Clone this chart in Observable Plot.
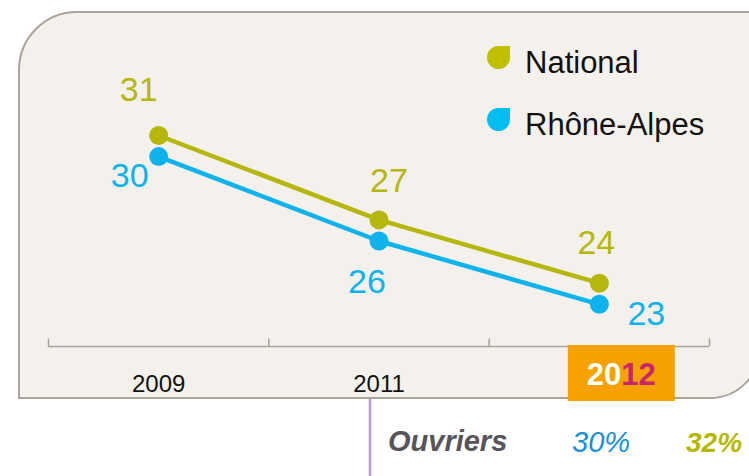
<!DOCTYPE html>
<html>
<head>
<meta charset="utf-8">
<script src="https://cdn.jsdelivr.net/npm/d3@7"></script>
<script src="https://cdn.jsdelivr.net/npm/@observablehq/plot@0.6"></script>
<style>
  html, body { margin: 0; padding: 0; background: #ffffff; }
  #chart { width: 749px; height: 476px; overflow: hidden; }
</style>
</head>
<body>
<div id="chart"></div>
<script>
// ---- data ----
const years = ["2009", "2011", "2012"];
const national = [31, 27, 24];
const rhoneAlpes = [30, 26, 23];
const seriesNames = ["National", "Rhône-Alpes"];
const rowLabel = "Ouvriers";
const rowRegional = "30%";
const rowNational = "32%";

// ---- styles ----
const FONT = "Liberation Sans, Arial, Helvetica, sans-serif";
const colors = { "National": "#b6b70d", "Rhône-Alpes": "#0db3ea" };
const legendColors = { "National": "#bfbf00", "Rhône-Alpes": "#00bdf2" };
// label placement per series / point (px offsets)
const labelOffsets = {
  "National": [[-20, -45], [10, -39], [-3, -40]],
  "Rhône-Alpes": [[-29, 20], [-12, 41], [47, 10]]
};

const rows = [];
years.forEach((y, i) => {
  rows.push({ i, year: y, series: "National", value: national[i] });
  rows.push({ i, year: y, series: "Rhône-Alpes", value: rhoneAlpes[i] });
});
const boundaries = d3.range(years.length + 1).map(k => k - 0.5);

const labelMarks = rows.map(r => {
  const [dx, dy] = labelOffsets[r.series][r.i];
  return Plot.text([r], {
    x: "i", y: "value", text: d => String(d.value),
    dx, dy, fill: colors[r.series], fontSize: 34, fontFamily: FONT,
    textAnchor: "middle"
  });
});

const plot = Plot.plot({
  width: 749,
  height: 476,
  marginLeft: 48,
  marginRight: 40,
  marginTop: 12,
  marginBottom: 130,
  style: { background: "transparent", overflow: "visible", fontFamily: FONT },
  x: { type: "linear", domain: [-0.5, years.length - 0.5], axis: null },
  y: { domain: [21, 36.83], axis: null },
  marks: [
    Plot.ruleY([21], { stroke: "#a7a29b", strokeWidth: 1.5 }),
    Plot.ruleX(boundaries, { y1: 21, y2: 21.36, stroke: "#a7a29b", strokeWidth: 1.5 }),
    Plot.text(years.slice(0, years.length - 1), {
      x: (d, i) => i, y: () => 21, text: d => d, dy: 38,
      fontSize: 24, fill: "#111", fontFamily: FONT
    }),
    ...seriesNames.map(s => Plot.line(rows.filter(r => r.series === s), {
      x: "i", y: "value", stroke: colors[s], strokeWidth: 4.5
    })),
    ...seriesNames.map(s => Plot.dot(rows.filter(r => r.series === s), {
      x: "i", y: "value", r: 9.5, fill: colors[s], stroke: "none"
    })),
    ...labelMarks
  ]
});

document.getElementById("chart").appendChild(plot);

// ---- decorations ----
const svg = d3.select(plot);
const xs = plot.scale("x");

// panel behind everything
svg.insert("path", ":first-child")
  .attr("d", "M19,398 L19,70 A58,58 0 0 1 77,12 L760,12 L760,348 A50,50 0 0 1 710,398 Z")
  .attr("fill", "#f4f1ec")
  .attr("stroke", "#aaa49b")
  .attr("stroke-width", 2);

// last year highlighted in an orange box
const lastX = xs.apply(years.length - 1);
const g = svg.append("g").attr("font-family", FONT).attr("text-anchor", "start");
g.append("rect")
  .attr("x", lastX - 31).attr("y", 345).attr("width", 107).attr("height", 56)
  .attr("fill", "#f5a100");
const lastYear = years[years.length - 1];
const t = g.append("text")
  .attr("x", lastX + 22.5).attr("y", 385)
  .attr("text-anchor", "middle")
  .attr("font-size", 31).attr("font-weight", "bold");
t.append("tspan").attr("fill", "#ffffff").text(lastYear.slice(0, 2));
t.append("tspan").attr("fill", "#c9256e").text(lastYear.slice(2));

// purple connector line
g.append("line")
  .attr("x1", 370).attr("x2", 370).attr("y1", 399).attr("y2", 476)
  .attr("stroke", "#b99ad3").attr("stroke-width", 2.5);

// bottom row
g.append("text").attr("x", 388).attr("y", 451).attr("text-anchor", "start")
  .attr("font-size", 29).attr("font-weight", "bold").attr("font-style", "italic")
  .attr("fill", "#57545a").text(rowLabel);
g.append("text").attr("x", 572).attr("y", 452).attr("text-anchor", "start")
  .attr("font-size", 29).attr("font-style", "italic")
  .attr("fill", "#1a90d2").text(rowRegional);
g.append("text").attr("x", 686).attr("y", 452).attr("text-anchor", "start")
  .attr("font-size", 28).attr("font-weight", "bold").attr("font-style", "italic")
  .attr("fill", "#b5b800").text(rowNational);

// legend
function leafPath(x0, y0, s) {
  const r = s / 2;
  return `M${x0 + r},${y0} L${x0 + s},${y0} L${x0 + s},${y0 + r} ` +
    `A${r},${r} 0 0 1 ${x0 + r},${y0 + s} A${r},${r} 0 0 1 ${x0},${y0 + r} ` +
    `A${r},${r} 0 0 1 ${x0 + r},${y0} Z`;
}
seriesNames.forEach((s, k) => {
  const top = 46 + k * 62;
  g.append("path").attr("d", leafPath(487, top, 23)).attr("fill", legendColors[s]);
  g.append("text").attr("x", 525).attr("y", top + 27).attr("text-anchor", "start")
    .attr("font-size", 31).attr("fill", "#111").text(s);
});
</script>
</body>
</html>
